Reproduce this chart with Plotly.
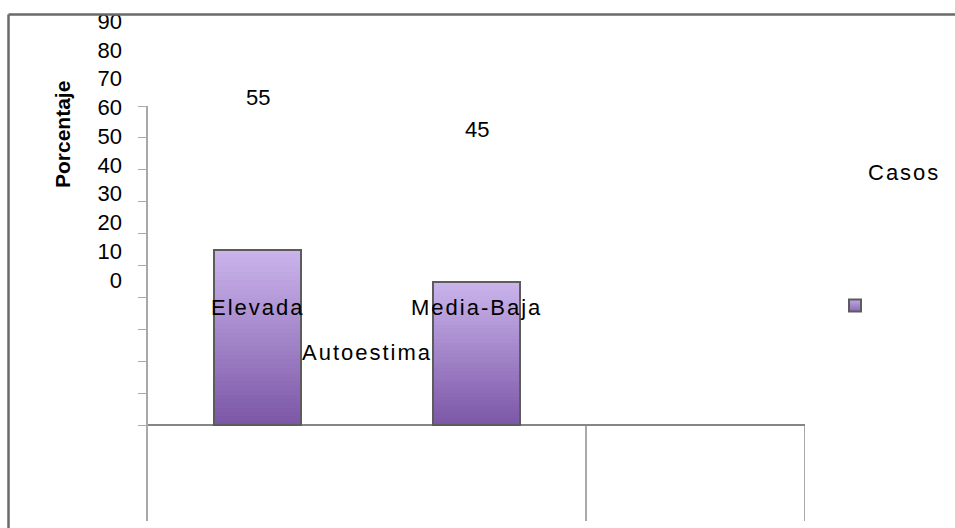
import plotly.graph_objects as go

# Data
categories = ["Elevada", "Media-Baja"]
values = [55, 45]
series_name = "Casos"
axis_ticks = [0, 10, 20, 30, 40, 50, 60, 70, 80, 90, 100]
label_ticks = [0, 10, 20, 30, 40, 50, 60, 70, 80, 90]

W, H = 955, 528
FONT = "Liberation Sans, Arial, sans-serif"
BAR_W = 0.40
LIGHT = (203, 181, 236)
DARK = (123, 86, 166)
EDGE = "#5c5c5c"
STEPS = 40
positions = list(range(len(categories)))


def mix(f):
    r, g, b = (round(d + (l - d) * f) for d, l in zip(DARK, LIGHT))
    return f"rgb({r},{g},{b})"


def spaced(text, px=2):
    return f'<span style="letter-spacing:{px}px">{text}</span>'


fig = go.Figure()

# Gradient fill: nested bars from full height down to the base, each one
# coloured by its relative height so the colour darkens towards zero.
for k in range(STEPS, 0, -1):
    f = k / STEPS
    fig.add_trace(go.Bar(
        x=positions, y=[v * f for v in values], width=BAR_W,
        marker=dict(color=mix(f - 0.5 / STEPS), line=dict(width=0)),
        showlegend=False, hoverinfo="skip",
    ))

# Bar outlines
fig.add_trace(go.Bar(
    x=positions, y=values, width=BAR_W, name=series_name,
    marker=dict(color="rgba(0,0,0,0)", line=dict(color=EDGE, width=2)),
    showlegend=False, hovertemplate="%{y}<extra></extra>",
))

# Legend entry for the series
fig.add_trace(go.Scatter(
    x=[None], y=[None], mode="markers", name=" ",
    marker=dict(symbol="square", size=12, color=mix(0.85),
                gradient=dict(type="vertical", color=mix(0.2)),
                line=dict(color=EDGE, width=2)),
    showlegend=True,
))

# Carrier trace for the tick-label axis
fig.add_trace(go.Scatter(x=[None], y=[None], yaxis="y2", showlegend=False,
                         hoverinfo="skip"))

# Value labels
for i, v in enumerate(values):
    fig.add_annotation(x=positions[i], y=v, xref="x", yref="y", text=str(v),
                       showarrow=False, yshift=152, yanchor="middle",
                       font=dict(family=FONT, size=22, color="#000"))

# Category labels
for i, c in enumerate(categories):
    fig.add_annotation(x=positions[i], y=(H - 308) / H, xref="x", yref="paper",
                       text=spaced(c), showarrow=False, yanchor="middle",
                       xanchor="center",
                       font=dict(family=FONT, size=22, color="#000"))

fig.add_annotation(x=0.5, y=(H - 352) / H, xref="x", yref="paper",
                   text=spaced("Autoestima"), showarrow=False, yanchor="middle",
                   xanchor="center", font=dict(family=FONT, size=22, color="#000"))

fig.add_annotation(x=62 / W, y=(H - 135) / H, xref="paper", yref="paper",
                   text="<b>Porcentaje</b>", textangle=-90, showarrow=False,
                   xanchor="center", yanchor="middle",
                   font=dict(family=FONT, size=21, color="#000"))

fig.add_annotation(x=904 / W, y=(H - 172) / H, xref="paper", yref="paper",
                   text=spaced(series_name), showarrow=False, xanchor="center",
                   yanchor="middle", font=dict(family=FONT, size=22, color="#000"))

# Category separators below the baseline
for xb in [1.5, 2.5]:
    fig.add_shape(type="line", xref="x", yref="y", x0=xb, x1=xb, y0=-30, y1=0,
                  line=dict(color="#8c8c8c", width=1.5), layer="below")

# Outer frame (left and top edges)
fig.add_shape(type="line", xref="paper", yref="paper",
              x0=8.5 / W, x1=1.05, y0=(H - 14.5) / H, y1=(H - 14.5) / H,
              line=dict(color="#6a6a6a", width=2.5), layer="above")
fig.add_shape(type="line", xref="paper", yref="paper",
              x0=8.5 / W, x1=8.5 / W, y0=-0.05, y1=(H - 14.5) / H,
              line=dict(color="#6a6a6a", width=2.5), layer="above")

fig.update_layout(
    width=W, height=H,
    margin=dict(l=0, r=0, t=0, b=0, autoexpand=False),
    paper_bgcolor="white", plot_bgcolor="rgba(0,0,0,0)",
    font=dict(family=FONT, size=22, color="#000"),
    barmode="overlay", bargap=0,
    xaxis=dict(domain=[148 / W, 805 / W], range=[-0.5, 2.5],
               showgrid=False, zeroline=False, showline=False,
               showticklabels=False, ticks="", fixedrange=True),
    yaxis=dict(domain=[(H - 521) / H, (H - 106) / H], range=[-30, 100],
               tickvals=axis_ticks, showticklabels=False,
               ticks="outside", ticklen=8, tickcolor="#a8a8a8", tickwidth=1,
               showline=True, linecolor="#a8a8a8", linewidth=1.5,
               showgrid=False, zeroline=True, zerolinecolor="#868686",
               zerolinewidth=1.5),
    yaxis2=dict(domain=[(H - 282.9) / H, (H - 18.4) / H], range=[-1, 91],
                anchor="free", position=122 / W, side="left",
                tickvals=label_ticks, ticks="", showline=False,
                showgrid=False, zeroline=False,
                tickfont=dict(family=FONT, size=22, color="#000")),
    legend=dict(x=(855 - 20) / W, y=(H - 306) / H, xanchor="left",
                yanchor="middle", bgcolor="rgba(0,0,0,0)",
                font=dict(family=FONT, size=14)),
    showlegend=True,
)

fig.write_html("out.html")
